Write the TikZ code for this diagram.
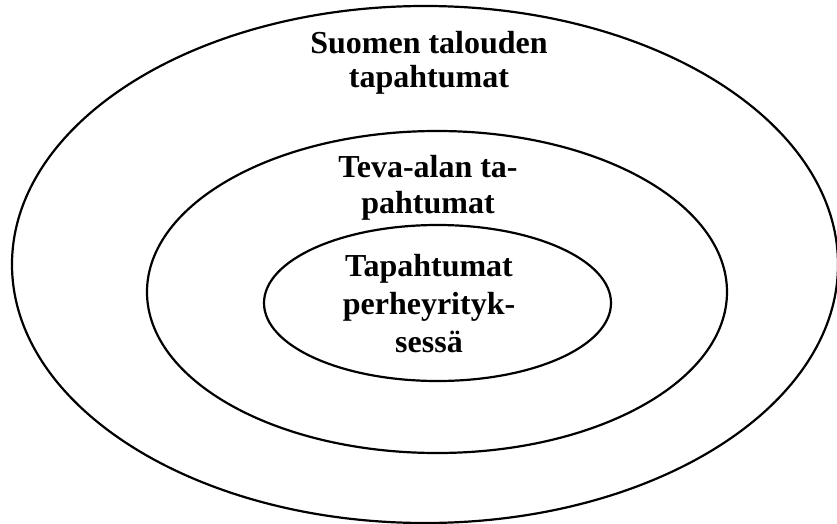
\documentclass[tikz,border=0pt]{standalone}
\usepackage{fontspec}
\setmainfont{Liberation Serif}
\usetikzlibrary{shapes.geometric}
\begin{document}
\begin{tikzpicture}[x=1pt,y=-1pt,
  ring/.style={ellipse, draw=black, line width=2.2pt, inner sep=0pt, outer sep=0pt},
  lbl/.style={align=center, anchor=base, inner sep=0pt, font=\bfseries\fontsize{32}{#1}\selectfont}]
\useasboundingbox (0,0) rectangle (837,524);
\node[ring, minimum width=826pt, minimum height=517pt] (outer) at (425,264.5) {};
\node[ring, minimum width=580pt, minimum height=322pt] (middle) at (437,292) {};
\node[ring, minimum width=347pt, minimum height=156pt] (inner) at (437.5,303) {};
\node[lbl=34] (t1) at (429,88) {Suomen talouden\\tapahtumat};
\node[lbl=36] (t2) at (428,213) {Teva-alan ta-\\pahtumat};
\node[lbl=38] (t3) at (429,352) {Tapahtumat\\perheyrityk-\\sessä};
\end{tikzpicture}
\end{document}
